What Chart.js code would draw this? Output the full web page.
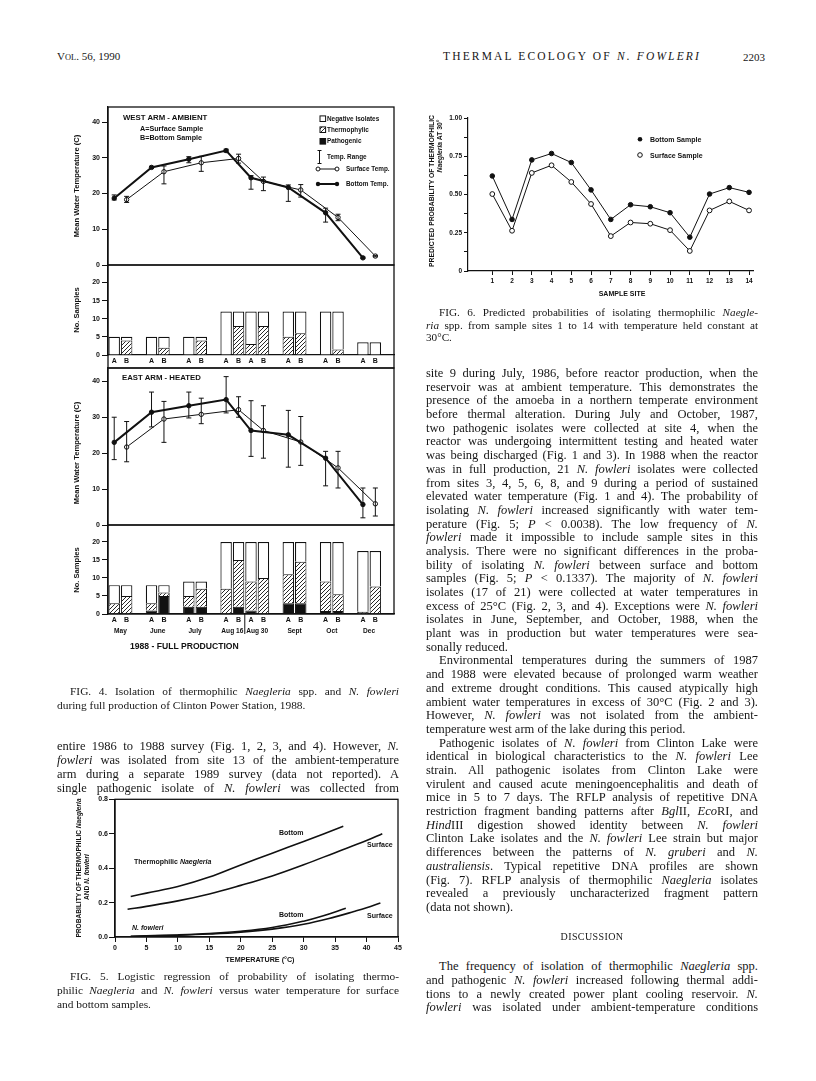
<!DOCTYPE html>
<html><head><meta charset="utf-8">
<script src="https://cdn.jsdelivr.net/npm/chart.js@4.4.0/dist/chart.umd.min.js"></script>
<style>
html,body{margin:0;padding:0;background:#fff;}
body{width:816px;height:1081px;position:relative;overflow:hidden;font-family:"Liberation Serif","Times New Roman",serif;color:#161616;}
canvas{position:absolute;}
.ln{position:absolute;white-space:nowrap;line-height:1;transform:translateY(-50%);}
.lbl{position:absolute;font-family:"Liberation Sans",Arial,sans-serif;font-weight:bold;color:#111;white-space:nowrap;line-height:1;}
</style></head><body>
<canvas id="w1" width="360" height="178" style="left:40px;top:97px"></canvas>
<canvas id="w2" width="360" height="123" style="left:40px;top:255px"></canvas>
<canvas id="e1" width="360" height="177" style="left:40px;top:358px"></canvas>
<canvas id="e2" width="360" height="144" style="left:40px;top:515px"></canvas>
<canvas id="f6" width="400" height="210" style="left:400px;top:100px"></canvas>
<canvas id="f5" width="370" height="190" style="left:40px;top:785px"></canvas>
<script>
// ---------------- DATA ----------------
// Fig. 4 sampling months (each with A = surface sample, B = bottom sample)
const months = ['May','June','July','Aug 16','Aug 30','Sept','Oct','Dec'];
const sampleTypes = ['A','B'];
// West arm (ambient) mean temperatures and ranges, line with filled markers (A positions)
const westTempA    = [18.7, 27.3, 29.6, 32.0, 24.4, 21.7, 14.6, 2.0];
const westTempALow = [18.2, 27.0, 28.6, 31.6, 21.2, 17.8, 12.0, 1.8];
const westTempAHigh= [19.6, 27.6, 30.3, 32.4, 25.0, 22.4, 15.9, 2.2];
// West arm, line with open markers (B positions)
const westTempB    = [18.3, 26.1, 28.6, 29.8, 23.4, 21.0, 13.3, 2.5];
const westTempBLow = [17.5, 22.7, 26.2, 28.5, 20.8, 19.0, 12.4, 2.3];
const westTempBHigh= [19.2, 27.7, 30.4, 31.0, 24.6, 22.5, 14.2, 2.7];
// East arm (heated)
const eastTempA    = [23.0, 31.4, 33.2, 34.9, 26.3, 25.1, 18.6, 5.7];
const eastTempALow = [18.2, 27.3, 29.8, 31.2, 19.1, 16.1, 10.9, 2.0];
const eastTempAHigh= [30.0, 37.0, 37.0, 41.3, 34.6, 31.9, 20.5, 10.3];
const eastTempB    = [21.7, 29.5, 30.8, 32.1, 26.3, 23.1, 15.9, 5.9];
const eastTempBLow = [17.6, 23.0, 28.2, 30.0, 18.6, 16.6, 10.3, 2.5];
const eastTempBHigh= [28.8, 34.4, 35.3, 35.7, 33.2, 30.2, 20.5, 10.3];
// Sample counts, per sample (May A, May B, June A, ...)
const westTotal   = [5,5, 5,5, 5,5, 12,12, 12,12, 12,12, 12,12, 3.5,3.5];
const westThermo  = [0,4, 0,2, 0,4, 0,8, 3,8, 5,6, 0,1.5, 0,0];
const westPatho   = [0,0, 0,0, 0,0, 0,0, 0,0, 0,0, 0,0, 0,0];
const eastTotal   = [8,8, 8,8, 9,9, 20,20, 20,20, 20,20, 20,20, 17.5,17.5];
const eastThermo  = [3,5, 2,1, 3,5, 7,13, 8,10, 8,11.5, 8.2,4.7, 0.6,7.6];
const eastPatho   = [0,0, 1,5, 2,2, 0,2, 1,0, 3,3, 0.8,0.8, 0,0];
// Fig. 6
const sites = [1,2,3,4,5,6,7,8,9,10,11,12,13,14];
const bottomProb  = [0.621,0.337,0.726,0.768,0.709,0.530,0.337,0.433,0.420,0.381,0.221,0.503,0.545,0.514];
const surfaceProb = [0.503,0.263,0.641,0.691,0.582,0.438,0.228,0.317,0.309,0.267,0.131,0.396,0.455,0.396];
// Fig. 5 logistic curves (temperature °C, probability)
const thermoBottomT = [2.5, 5, 10, 15, 20, 25, 30, 36.3];
const thermoBottomP = [0.235,0.255,0.293,0.348,0.419,0.487,0.555,0.643];
const thermoSurfT   = [2, 5, 10, 15, 20, 25, 30, 35, 40, 42.5];
const thermoSurfP   = [0.161,0.178,0.21,0.25,0.3,0.355,0.42,0.49,0.56,0.6];
const fowlBottomT   = [2.5, 10, 15, 20, 25, 30, 33, 36.7];
const fowlBottomP   = [0.004,0.012,0.02,0.033,0.055,0.092,0.122,0.167];
const fowlSurfT     = [2.5, 10, 15, 20, 25, 30, 35, 38, 40, 42.2];
const fowlSurfP     = [0.003,0.01,0.017,0.028,0.046,0.074,0.117,0.148,0.17,0.198];

// ---------------- SETUP ----------------
const SANS = "'Liberation Sans', Arial, Helvetica, sans-serif";
Chart.defaults.font.family = SANS;
Chart.defaults.font.weight = 'bold';
Chart.defaults.color = '#111';
Chart.defaults.animation = false;
Chart.defaults.events = [];
Chart.defaults.plugins.legend.display = false;
Chart.defaults.plugins.tooltip.enabled = false;

// category slots: A, B, gap (no gap between Aug 16 and Aug 30)
const slotLabels = [], slotIdx = [];
months.forEach(m => {
  sampleTypes.forEach(t => { slotIdx.push(slotLabels.length); slotLabels.push(t); });
  if (m !== 'Aug 16') slotLabels.push('');
});
function toSlots(vals, which) { // which: 0 = A, 1 = B, null = all samples
  const out = slotLabels.map(() => null);
  vals.forEach((v, i) => {
    const s = which === null ? slotIdx[i] : slotIdx[2 * i + which];
    out[s] = v;
  });
  return out;
}
const nz = a => a.map(v => (v === 0 ? null : v));

const hatch = (() => {
  const c = document.createElement('canvas'); c.width = 4; c.height = 4;
  const g = c.getContext('2d');
  g.fillStyle = '#fff'; g.fillRect(0, 0, 4, 4);
  g.strokeStyle = '#111'; g.lineWidth = 0.9;
  g.beginPath(); g.moveTo(-1, 5); g.lineTo(5, -1); g.moveTo(-1, 1); g.lineTo(1, -1); g.moveTo(3, 5); g.lineTo(5, 3); g.stroke();
  return g.createPattern(c, 'repeat');
})();

const framePlugin = {
  id: 'frame',
  afterDraw(chart, args, o) {
    if (!o || !o.on) return;
    const { ctx, chartArea: a } = chart;
    ctx.save(); ctx.strokeStyle = '#111'; ctx.lineWidth = 1.3;
    ctx.strokeRect(a.left, a.top, a.right - a.left, a.bottom - a.top + (o.extra || 0));
    ctx.restore();
  }
};
const errPlugin = {
  id: 'err',
  afterDatasetsDraw(chart) {
    const { ctx } = chart; const ys = chart.scales.y;
    chart.data.datasets.forEach((ds, di) => {
      if (!ds.errLow) return;
      const meta = chart.getDatasetMeta(di);
      ctx.save(); ctx.strokeStyle = '#111'; ctx.lineWidth = 1;
      meta.data.forEach((pt, i) => {
        const lo = ds.errLow[i], hi = ds.errHigh[i];
        if (lo == null) return;
        const x = pt.x, y1 = ys.getPixelForValue(lo), y2 = ys.getPixelForValue(hi);
        ctx.beginPath();
        ctx.moveTo(x, y1); ctx.lineTo(x, y2);
        ctx.moveTo(x - 2.5, y1); ctx.lineTo(x + 2.5, y1);
        ctx.moveTo(x - 2.5, y2); ctx.lineTo(x + 2.5, y2);
        ctx.stroke();
      });
      ctx.restore();
    });
  }
};
const monthPlugin = {
  id: 'months',
  afterDraw(chart, args, o) {
    if (!o || !o.on) return;
    const { ctx } = chart; const xs = chart.scales.x; const b = chart.chartArea.bottom;
    ctx.save(); ctx.font = 'bold 6.6px ' + SANS; ctx.fillStyle = '#111';
    ctx.textAlign = 'center'; ctx.textBaseline = 'middle';
    months.forEach((m, i) => {
      const xa = xs.getPixelForValue(slotIdx[2 * i]), xb = xs.getPixelForValue(slotIdx[2 * i + 1]);
      ctx.fillText(m, (xa + xb) / 2, b + 17);
    });
    const xd = (xs.getPixelForValue(slotIdx[7]) + xs.getPixelForValue(slotIdx[8])) / 2;
    ctx.strokeStyle = '#111'; ctx.lineWidth = 1;
    ctx.beginPath(); ctx.moveTo(xd, b); ctx.lineTo(xd, b + 20); ctx.stroke();
    ctx.restore();
  }
};
const legend4Plugin = {
  id: 'leg4',
  afterDraw(chart, args, o) {
    if (!o || !o.on) return;
    const { ctx } = chart; const ox = -40, oy = -97; // page -> canvas
    ctx.save(); ctx.strokeStyle = '#111'; ctx.lineWidth = 1;
    const box = (y, fill) => { ctx.fillStyle = fill; ctx.fillRect(320 + ox, y - 2.8 + oy, 5.6, 5.6); ctx.strokeRect(320 + ox, y - 2.8 + oy, 5.6, 5.6); };
    box(118.7, '#fff'); box(129.7, hatch); box(141.3, '#111');
    ctx.beginPath(); ctx.moveTo(319.5 + ox, 150.5 + oy); ctx.lineTo(319.5 + ox, 163.5 + oy);
    ctx.moveTo(317.5 + ox, 150.5 + oy); ctx.lineTo(321.5 + ox, 150.5 + oy);
    ctx.moveTo(317.5 + ox, 163.5 + oy); ctx.lineTo(321.5 + ox, 163.5 + oy); ctx.stroke();
    ctx.beginPath(); ctx.moveTo(318 + ox, 169 + oy); ctx.lineTo(337 + ox, 169 + oy); ctx.stroke();
    [318, 337].forEach(x => { ctx.beginPath(); ctx.arc(x + ox, 169 + oy, 2, 0, 7); ctx.fillStyle = '#fff'; ctx.fill(); ctx.stroke(); });
    ctx.lineWidth = 2; ctx.beginPath(); ctx.moveTo(318 + ox, 184 + oy); ctx.lineTo(337 + ox, 184 + oy); ctx.stroke();
    [318, 337].forEach(x => { ctx.beginPath(); ctx.arc(x + ox, 184 + oy, 2.2, 0, 7); ctx.fillStyle = '#111'; ctx.fill(); });
    ctx.restore();
  }
};
const legend6Plugin = {
  id: 'leg6',
  afterDraw(chart, args, o) {
    if (!o || !o.on) return;
    const { ctx } = chart; const ox = -400, oy = -100;
    ctx.save(); ctx.strokeStyle = '#111'; ctx.lineWidth = 1;
    ctx.beginPath(); ctx.arc(640 + ox, 139.3 + oy, 2.3, 0, 7); ctx.fillStyle = '#111'; ctx.fill();
    ctx.beginPath(); ctx.arc(640 + ox, 155 + oy, 2.3, 0, 7); ctx.fillStyle = '#fff'; ctx.fill(); ctx.stroke();
    ctx.restore();
  }
};
Chart.register(framePlugin, errPlugin, monthPlugin, legend4Plugin, legend6Plugin);

const yFit = w => s => { s.width = w; s.paddingTop = 0; s.paddingBottom = 0; };
const xFit = h => s => { s.height = h; s.paddingLeft = 0; s.paddingRight = 0; };
const tickFont = { size: 7, weight: 'bold', family: SANS };

function tempPanel(id, yMax, a, aLo, aHi, b, bLo, bHi) {
  new Chart(document.getElementById(id), {
    type: 'line',
    data: {
      labels: slotLabels,
      datasets: [
        { label: 'Bottom Temp.', data: toSlots(a, 0), errLow: toSlots(aLo, 0), errHigh: toSlots(aHi, 0), spanGaps: true,
          borderColor: '#111', borderWidth: 2, pointRadius: 2.2, pointBackgroundColor: '#111', pointBorderColor: '#111', pointBorderWidth: 1 },
        { label: 'Surface Temp.', data: toSlots(b, 1), errLow: toSlots(bLo, 1), errHigh: toSlots(bHi, 1), spanGaps: true,
          borderColor: '#111', borderWidth: 1, pointRadius: 2.2, pointBackgroundColor: '#fff', pointBorderColor: '#111', pointBorderWidth: 1 }
      ]
    },
    options: {
      responsive: false, devicePixelRatio: 1,
      layout: { padding: { top: 10, bottom: 10, left: 0, right: 6 } },
      scales: {
        x: { display: false, offset: true, grid: { display: false } },
        y: { min: 0, max: yMax, afterFit: yFit(68),
             ticks: { stepSize: 10, includeBounds: false, font: tickFont, padding: 2, color: '#111' },
             grid: { drawOnChartArea: false, tickLength: 6, color: '#111', lineWidth: 1 },
             border: { display: true, color: '#111', width: 1.3 } }
      },
      plugins: { frame: { on: true }, leg4: { on: id === 'w1' } }
    }
  });
}
function barPanel(id, yMax, total, thermo, patho, xh, padB, withMonths) {
  const neg = total.map((t, i) => t - thermo[i] - patho[i]);
  new Chart(document.getElementById(id), {
    type: 'bar',
    data: {
      labels: slotLabels,
      datasets: [
        { label: 'Pathogenic', data: toSlots(nz(patho), null), backgroundColor: '#111', borderColor: '#111', borderWidth: 1 },
        { label: 'Thermophylic', data: toSlots(nz(thermo), null), backgroundColor: hatch, borderColor: '#111', borderWidth: 1 },
        { label: 'Negative Isolates', data: toSlots(nz(neg), null), backgroundColor: '#fff', borderColor: '#111', borderWidth: 1.2 }
      ]
    },
    options: {
      responsive: false, devicePixelRatio: 1,
      barPercentage: 0.92, categoryPercentage: 1,
      layout: { padding: { top: 10, bottom: padB, left: 0, right: 6 } },
      scales: {
        x: { stacked: true, afterFit: xFit(xh), grid: { display: false, drawTicks: false },
             border: { display: true, color: '#111', width: 1.3 },
             ticks: { autoSkip: false, maxRotation: 0, font: { size: 7, weight: 'bold', family: SANS }, padding: 2, color: '#111' } },
        y: { stacked: true, min: 0, max: yMax, afterFit: yFit(68),
             ticks: { stepSize: 5, includeBounds: false, font: tickFont, padding: 2, color: '#111' },
             grid: { drawOnChartArea: false, tickLength: 6, color: '#111' },
             border: { display: true, color: '#111', width: 1.3 } }
      },
      plugins: { frame: { on: true, extra: withMonths ? 0 : 13 }, months: { on: withMonths } }
    }
  });
}
tempPanel('w1', 44.2, westTempA, westTempALow, westTempAHigh, westTempB, westTempBLow, westTempBHigh);
barPanel('w2', 24.8, westTotal, westThermo, westPatho, 13, 10, false);
tempPanel('e1', 43.7, eastTempA, eastTempALow, eastTempAHigh, eastTempB, eastTempBLow, eastTempBHigh);
barPanel('e2', 24.7, eastTotal, eastThermo, eastPatho, 40, 5, true);

// Fig. 6
new Chart(document.getElementById('f6'), {
  type: 'line',
  data: { datasets: [
    { label: 'Bottom Sample', data: sites.map((s, i) => ({ x: s, y: bottomProb[i] })), borderColor: '#111', borderWidth: 1,
      pointRadius: 2.3, pointBackgroundColor: '#111', pointBorderColor: '#111', pointBorderWidth: 1 },
    { label: 'Surface Sample', data: sites.map((s, i) => ({ x: s, y: surfaceProb[i] })), borderColor: '#111', borderWidth: 1,
      pointRadius: 2.4, pointBackgroundColor: '#fff', pointBorderColor: '#111', pointBorderWidth: 1 }
  ] },
  options: {
    responsive: false, devicePixelRatio: 1,
    layout: { padding: { top: 18, bottom: 9, left: 0, right: 47 } },
    scales: {
      x: { type: 'linear', min: -0.23, max: 14.2, afterFit: xFit(30),
           afterBuildTicks: s => { s.ticks = sites.map(v => ({ value: v })); },
           ticks: { font: { size: 6.5, weight: 'bold', family: SANS }, padding: 2, color: '#111', autoSkip: false, maxRotation: 0 },
           grid: { drawOnChartArea: false, tickLength: 4, color: '#111' },
           border: { display: true, color: '#111', width: 1.2 } },
      y: { min: 0, max: 1, afterFit: yFit(68),
           ticks: { stepSize: 0.125, font: { size: 6.5, weight: 'bold', family: SANS }, padding: 2, color: '#111',
                    callback: v => (Math.abs(v * 4 - Math.round(v * 4)) < 1e-6 ? (v === 0 ? '0' : v.toFixed(2)) : '') },
           grid: { drawOnChartArea: false, tickLength: 4, color: '#111' },
           border: { display: true, color: '#111', width: 1.2 } }
    },
    plugins: { leg6: { on: true } }
  }
});

// Fig. 5
const pts = (t, p) => t.map((v, i) => ({ x: v, y: p[i] }));
new Chart(document.getElementById('f5'), {
  type: 'line',
  data: { datasets: [
    { label: 'Thermophilic Naegleria, bottom', data: pts(thermoBottomT, thermoBottomP) },
    { label: 'Thermophilic Naegleria, surface', data: pts(thermoSurfT, thermoSurfP) },
    { label: 'N. fowleri, bottom', data: pts(fowlBottomT, fowlBottomP) },
    { label: 'N. fowleri, surface', data: pts(fowlSurfT, fowlSurfP) }
  ] },
  options: {
    responsive: false, devicePixelRatio: 1,
    elements: { point: { radius: 0 }, line: { tension: 0.4, borderWidth: 1.6, borderColor: '#111' } },
    layout: { padding: { top: 14.3, bottom: 10, left: 0, right: 12 } },
    scales: {
      x: { type: 'linear', min: 0, max: 45, afterFit: xFit(28),
           ticks: { stepSize: 5, font: tickFont, padding: 2, color: '#111' },
           grid: { drawOnChartArea: false, tickLength: 5, color: '#111' },
           border: { display: true, color: '#111', width: 1.3 } },
      y: { min: 0, max: 0.8, afterFit: yFit(75),
           ticks: { stepSize: 0.2, font: tickFont, padding: 1, color: '#111', callback: v => v.toFixed(1) },
           grid: { drawOnChartArea: false, tickLength: 6, color: '#111' },
           border: { display: true, color: '#111', width: 1.3 } }
    },
    plugins: { frame: { on: true } }
  }
});

// ---------------- TEXT ----------------
function lbl(html, x, y, size, mode) {
  const d = document.createElement('div'); d.className = 'lbl'; d.innerHTML = html;
  d.style.fontSize = size + 'px'; d.style.left = x + 'px'; d.style.top = y + 'px';
  d.style.transform = mode === 'rot' ? 'translate(-50%,-50%) rotate(-90deg)' : (mode === 'c' ? 'translate(-50%,-50%)' : 'translateY(-50%)');
  document.body.appendChild(d); return d;
}
lbl('Mean Water Temperature (C)', 77, 186, 7.6, 'rot');
lbl('No. Samples', 77, 310, 7.6, 'rot');
lbl('Mean Water Temperature (C)', 77, 453, 7.6, 'rot');
lbl('No. Samples', 77, 570, 7.6, 'rot');
lbl('WEST ARM - AMBIENT', 123, 117.5, 7.8);
lbl('A=Surface Sample', 140, 129.3, 7.2);
lbl('B=Bottom Sample', 140, 137.7, 7.2);
lbl('EAST ARM - HEATED', 122, 378.3, 7.8);
lbl('Negative Isolates', 327, 118.7, 6.4);
lbl('Thermophylic', 327, 129.7, 6.4);
lbl('Pathogenic', 327, 141.3, 6.4);
lbl('Temp. Range', 327, 157.3, 6.4);
lbl('Surface Temp.', 346, 169, 6.4);
lbl('Bottom Temp.', 346, 184, 6.4);
lbl('1988 - FULL PRODUCTION', 130, 646, 8.6);
lbl('PREDICTED PROBABILITY OF THERMOPHILIC', 432, 191, 6.8, 'rot');
lbl('<i>Naegleria</i> AT 30°', 439.5, 146, 6.8, 'rot');
lbl('SAMPLE SITE', 622, 292.7, 7, 'c');
lbl('Bottom Sample', 650, 139.3, 7);
lbl('Surface Sample', 650, 155, 7);
lbl('PROBABILITY OF THERMOPHILIC <i>Naegleria</i>', 79, 868, 6.6, 'rot');
lbl('AND <i>N. fowleri</i>', 87, 877, 6.6, 'rot');
lbl('TEMPERATURE (°C)', 260, 959.5, 7.2, 'c');
lbl('Bottom', 279, 832, 7);
lbl('Surface', 367, 844, 7);
lbl('Thermophilic <i>Naegleria</i>', 134, 861.3, 7);
lbl('Bottom', 279, 914.3, 7);
lbl('Surface', 367, 915.3, 7);
lbl('<i>N. fowleri</i>', 132, 927.3, 7);

function fitLine(d, width, indent) {
  const w = d.getBoundingClientRect().width;
  const n = (d.textContent.match(/ /g) || []).length;
  if (n > 0) d.style.wordSpacing = ((width - indent - w) / n) + 'px';
}
function textBlock(x, width, y0, step, size, lines) {
  lines.forEach((raw, i) => {
    let s = raw, indent = 0, just = true;
    if (s.startsWith('~')) { indent = 13; s = s.slice(1); }
    if (s.endsWith('$')) { just = false; s = s.slice(0, -1); }
    const d = document.createElement('div'); d.className = 'ln';
    d.style.fontSize = size + 'px'; d.style.left = (x + indent) + 'px'; d.style.top = (y0 + i * step) + 'px';
    d.innerHTML = s; document.body.appendChild(d);
    if (just) fitLine(d, width, indent);
  });
}
function plain(html, x, y, size, css) {
  const d = document.createElement('div'); d.className = 'ln';
  d.style.cssText = 'left:' + x + 'px;top:' + y + 'px;font-size:' + size + 'px;' + (css || '');
  d.innerHTML = html; document.body.appendChild(d); return d;
}
plain('V<span style="font-size:8.4px">OL</span>. 56, 1990', 57, 57, 11);
const h2 = plain('THERMAL ECOLOGY OF <i>N. FOWLERI</i>', 443, 57, 11.5);
{ const w = h2.getBoundingClientRect().width; const n = h2.textContent.length; h2.style.letterSpacing = ((258 - w) / n) + 'px'; }
plain('2203', 743, 57, 11);

textBlock(57, 342, 692, 14, 11.4, [
  '~FIG. 4. Isolation of thermophilic <i>Naegleria</i> spp. and <i>N. fowleri</i>',
  'during full production of Clinton Power Station, 1988.$'
]);
textBlock(57, 342, 746, 14, 12.5, [
  'entire 1986 to 1988 survey (Fig. 1, 2, 3, and 4). However, <i>N.</i>',
  '<i>fowleri</i> was isolated from site 13 of the ambient-temperature',
  'arm during a separate 1989 survey (data not reported). A',
  'single pathogenic isolate of <i>N. fowleri</i> was collected from'
]);
textBlock(57, 342, 977, 13.8, 11.4, [
  '~FIG. 5. Logistic regression of probability of isolating thermo-',
  'philic <i>Naegleria</i> and <i>N. fowleri</i> versus water temperature for surface',
  'and bottom samples.$'
]);
textBlock(426, 332, 313, 12.7, 11.2, [
  '~FIG. 6. Predicted probabilities of isolating thermophilic <i>Naegle-</i>',
  '<i>ria</i> spp. from sample sites 1 to 14 with temperature held constant at',
  '30°C.$'
]);
textBlock(426, 332, 373, 13.69, 12.5, [
  'site 9 during July, 1986, before reactor production, when the',
  'reservoir was at ambient temperature. This demonstrates the',
  'presence of the amoeba in a northern temperate environment',
  'before thermal alteration. During July and October, 1987,',
  'two pathogenic isolates were collected at site 4, when the',
  'reactor was undergoing intermittent testing and heated water',
  'was being discharged (Fig. 1 and 3). In 1988 when the reactor',
  'was in full production, 21 <i>N. fowleri</i> isolates were collected',
  'from sites 3, 4, 5, 6, 8, and 9 during a period of sustained',
  'elevated water temperature (Fig. 1 and 4). The probability of',
  'isolating <i>N. fowleri</i> increased significantly with water tem-',
  'perature (Fig. 5; <i>P</i> &lt; 0.0038). The low frequency of <i>N.</i>',
  '<i>fowleri</i> made it impossible to include sample sites in this',
  'analysis. There were no significant differences in the proba-',
  'bility of isolating <i>N. fowleri</i> between surface and bottom',
  'samples (Fig. 5; <i>P</i> &lt; 0.1337). The majority of <i>N. fowleri</i>',
  'isolates (17 of 21) were collected at water temperatures in',
  'excess of 25°C (Fig. 2, 3, and 4). Exceptions were <i>N. fowleri</i>',
  'isolates in June, September, and October, 1988, when the',
  'plant was in production but water temperatures were sea-',
  'sonally reduced.$',
  '~Environmental temperatures during the summers of 1987',
  'and 1988 were elevated because of prolonged warm weather',
  'and extreme drought conditions. This caused atypically high',
  'ambient water temperatures in excess of 30°C (Fig. 2 and 3).',
  'However, <i>N. fowleri</i> was not isolated from the ambient-',
  'temperature west arm of the lake during this period.$',
  '~Pathogenic isolates of <i>N. fowleri</i> from Clinton Lake were',
  'identical in biological characteristics to the <i>N. fowleri</i> Lee',
  'strain. All pathogenic isolates from Clinton Lake were',
  'virulent and caused acute meningoencephalitis and death of',
  'mice in 5 to 7 days. The RFLP analysis of repetitive DNA',
  'restriction fragment banding patterns after <i>Bgl</i>II, <i>Eco</i>RI, and',
  '<i>Hind</i>III digestion showed identity between <i>N. fowleri</i>',
  'Clinton Lake isolates and the <i>N. fowleri</i> Lee strain but major',
  'differences between the patterns of <i>N. gruberi</i> and <i>N.</i>',
  '<i>australiensis</i>. Typical repetitive DNA profiles are shown',
  '(Fig. 7). RFLP analysis of thermophilic <i>Naegleria</i> isolates',
  'revealed a previously uncharacterized fragment pattern',
  '(data not shown).$'
]);
plain('DISCUSSION', 592, 937, 10, 'letter-spacing:0.4px;transform:translate(-50%,-50%)');
textBlock(426, 332, 966, 13.8, 12.5, [
  '~The frequency of isolation of thermophilic <i>Naegleria</i> spp.',
  'and pathogenic <i>N. fowleri</i> increased following thermal addi-',
  'tions to a newly created power plant cooling reservoir. <i>N.</i>',
  '<i>fowleri</i> was isolated under ambient-temperature conditions'
]);
</script>
</body></html>
